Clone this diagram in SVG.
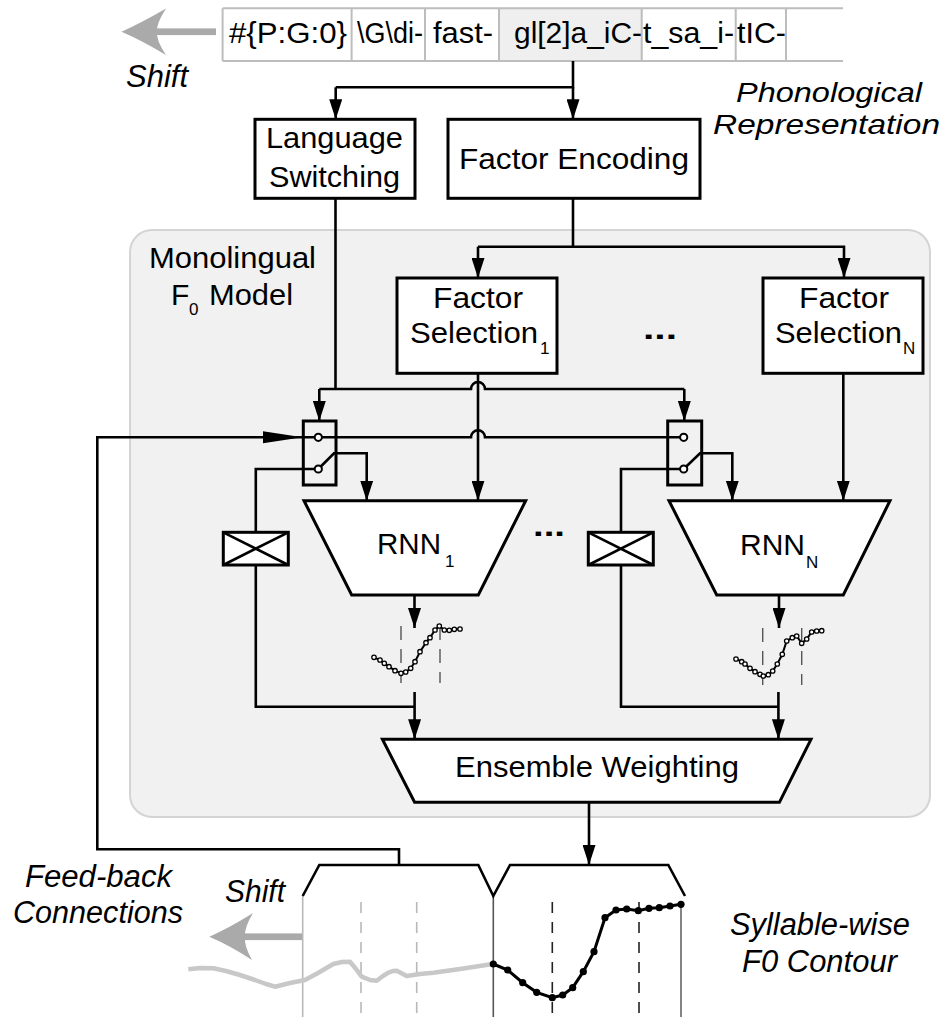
<svg xmlns="http://www.w3.org/2000/svg" width="943" height="1017" viewBox="0 0 943 1017">
  <defs>
    <style>
      .t { font-family: "Liberation Sans", Arial, sans-serif; font-size: 30px; fill: #000; }
      .it { font-style: italic; font-size: 31px; }
      .sub { font-family: "Liberation Sans", Arial, sans-serif; font-size: 17px; fill: #000; }
      .box { fill: #fff; stroke: #000; stroke-width: 3; }
      .frame { fill: none; stroke: #000; stroke-width: 3; }
      .wire { fill: none; stroke: #000; stroke-width: 2.6; }
      .tape { fill: none; stroke: #bdbdbd; stroke-width: 2; }
      .grid { stroke: #b8b8b8; stroke-width: 1.6; fill: none; }
      .grid-d { stroke: #222; stroke-width: 1.6; fill: none; stroke-dasharray: 11 9; }
      .grid-ld { stroke: #b8b8b8; stroke-width: 1.6; fill: none; stroke-dasharray: 11 9; }
      .mini-d { stroke: #555; stroke-width: 1.4; fill: none; stroke-dasharray: 14 9; }
      .mini { fill: none; stroke: #000; stroke-width: 2; }
      .mdot { fill: #fff; stroke: #000; stroke-width: 1.3; }
      .pin { fill: #fff; stroke: #000; stroke-width: 2; }
      .shift { fill: #aaaaaa; }
    </style>
    <marker id="arr" markerUnits="userSpaceOnUse" markerWidth="20" markerHeight="13" refX="20" refY="6.5" orient="auto">
      <path d="M0,0 L20,6.5 L0,13 Z" fill="#000"/>
    </marker>
  </defs>

  <!-- monolingual model panel -->
  <rect id="panel" x="130" y="230" width="800" height="587" rx="22" fill="#f1f1f1" stroke="#d4d4d4" stroke-width="2"/>

  <!-- phonological tape -->
  <g id="tape">
    <rect x="499" y="8.3" width="142.7" height="52.7" fill="#efefef"/>
    <path class="tape" d="M222.6,8.3 H843 M222.6,61 H843 M222.6,8.3 V61 M351.6,8.3 V61 M425,8.3 V61 M499,8.3 V61 M641.7,8.3 V61 M735.7,8.3 V61 M786,8.3 V61"/>
    <text class="t" x="229" y="43" textLength="118" lengthAdjust="spacingAndGlyphs">#{P:G:0}</text>
    <text class="t" x="357" y="43" textLength="66" lengthAdjust="spacingAndGlyphs">\G\di-</text>
    <text class="t" x="433" y="43" textLength="60" lengthAdjust="spacingAndGlyphs">fast-</text>
    <text class="t" x="514" y="43" textLength="128" lengthAdjust="spacingAndGlyphs">gl[2]a_iC-</text>
    <text class="t" x="643" y="43" textLength="91" lengthAdjust="spacingAndGlyphs">t_sa_i-</text>
    <text class="t" x="737" y="43" textLength="49" lengthAdjust="spacingAndGlyphs">tIC-</text>
  </g>

  <!-- shift arrows -->
  <g id="shift-top">
    <rect class="shift" x="155" y="28.4" width="61" height="6.7"/>
    <path class="shift" d="M121.5,31.7 Q143,22 166,8.5 Q156,24 157,31.7 Q156,40 166,55 Q143,41 121.5,31.7 Z"/>
    <text class="t it" x="126" y="87" textLength="62" lengthAdjust="spacingAndGlyphs">Shift</text>
  </g>
  <g id="shift-bottom">
    <rect class="shift" x="243" y="933.4" width="60" height="6.7"/>
    <path class="shift" d="M209.3,936.7 Q231,927 253,913 Q244,928 245,936.7 Q244,946 252,960 Q231,946 209.3,936.7 Z"/>
    <text class="t it" x="225" y="902" textLength="60" lengthAdjust="spacingAndGlyphs">Shift</text>
  </g>

  <!-- side labels -->
  <g id="labels">
    <text class="t it" x="736" y="102" style="font-size:28px" textLength="186" lengthAdjust="spacingAndGlyphs">Phonological</text>
    <text class="t it" x="713" y="134" style="font-size:28px" textLength="227" lengthAdjust="spacingAndGlyphs">Representation</text>
    <text class="t" x="149" y="268" textLength="167" lengthAdjust="spacingAndGlyphs">Monolingual</text>
    <text class="t" x="171" y="305">F</text>
    <text class="sub" x="189" y="315">0</text>
    <text class="t" x="209" y="305" textLength="84" lengthAdjust="spacingAndGlyphs">Model</text>
    <text class="t it" x="25" y="887" textLength="147" lengthAdjust="spacingAndGlyphs">Feed-back</text>
    <text class="t it" x="13" y="923" textLength="170" lengthAdjust="spacingAndGlyphs">Connections</text>
    <text class="t it" x="730" y="935" textLength="180" lengthAdjust="spacingAndGlyphs">Syllable-wise</text>
    <text class="t it" x="742" y="972" textLength="155" lengthAdjust="spacingAndGlyphs">F0 Contour</text>
    <text class="t" x="643" y="339" font-weight="bold" textLength="34" lengthAdjust="spacingAndGlyphs">...</text>
    <text class="t" x="533" y="536" font-weight="bold" textLength="32" lengthAdjust="spacingAndGlyphs">...</text>
  </g>

  <!-- connectors -->
  <g id="connectors">
    <path class="wire" d="M573,61 V87.3 H335.7"/>
    <path class="wire" d="M335.7,87.3 V119.3" marker-end="url(#arr)"/>
    <path class="wire" d="M573,87.3 V119.3" marker-end="url(#arr)"/>
    <path class="wire" d="M573,198.3 V246.7 H478"/>
    <path class="wire" d="M478,246.7 V278" marker-end="url(#arr)"/>
    <path class="wire" d="M573,246.7 H844 V278" marker-end="url(#arr)"/>
    <!-- language switching control -->
    <path class="wire" d="M335.5,198.3 V389"/>
    <path class="wire" d="M319.3,389 H471 A7,7 0 0 1 485,389 H684.3"/>
    <path class="wire" d="M319.3,389 V421" marker-end="url(#arr)"/>
    <path class="wire" d="M684.3,389 V421" marker-end="url(#arr)"/>
    <!-- factor selection outputs -->
    <path class="wire" d="M478,373.3 V500.7" marker-end="url(#arr)"/>
    <path class="wire" d="M843.3,373.3 V500.7" marker-end="url(#arr)"/>
    <!-- feedback loop -->
    <path class="wire" d="M399,865 V849.3 H97.3 V437.3 H318.3"/>
    <polygon points="263,431.3 302.5,437.3 263,443.3" fill="#000"/>
    <path class="wire" d="M318.3,437.3 H471 A7,7 0 0 1 485,437.3 H683.7"/>
    <!-- switch outputs -->
    <path class="wire" d="M318.3,469 L334,453.3 H366.7 V500.7" marker-end="url(#arr)"/>
    <path class="wire" d="M683.7,469 L700,453.3 H732.3 V500.7" marker-end="url(#arr)"/>
    <path class="wire" d="M318.3,469 H255.8 V532.3"/>
    <path class="wire" d="M683.7,469 H621 V532.3"/>
    <!-- RNN outputs -->
    <path class="wire" d="M414.5,595 V628" marker-end="url(#arr)"/>
    <path class="wire" d="M779,595 V628" marker-end="url(#arr)"/>
    <path class="wire" d="M255.8,565 V706.7 H414.6"/>
    <path class="wire" d="M414.6,692 V739.3" marker-end="url(#arr)"/>
    <path class="wire" d="M621,565 V706.7 H778.4"/>
    <path class="wire" d="M778.4,692 V739.3" marker-end="url(#arr)"/>
    <path class="wire" d="M589,802.3 V865" marker-end="url(#arr)"/>
  </g>

  <g id="lang-switch">
    <rect class="box" x="255" y="119.3" width="160" height="79"/>
    <text class="t" x="266" y="148" textLength="137" lengthAdjust="spacingAndGlyphs">Language</text>
    <text class="t" x="269" y="187" textLength="131" lengthAdjust="spacingAndGlyphs">Switching</text>
  </g>

  <g id="factor-encoding">
    <rect class="box" x="448" y="119.3" width="252" height="79"/>
    <text class="t" x="459" y="169" textLength="230" lengthAdjust="spacingAndGlyphs">Factor Encoding</text>
  </g>

  <g id="factor-sel-1">
    <rect class="box" x="397" y="278" width="160" height="95.3"/>
    <text class="t" x="433" y="308" textLength="90" lengthAdjust="spacingAndGlyphs">Factor</text>
    <text class="t" x="410" y="343" textLength="128" lengthAdjust="spacingAndGlyphs">Selection</text>
    <text class="sub" x="540" y="354">1</text>
  </g>

  <g id="factor-sel-n">
    <rect class="box" x="763" y="278" width="160" height="95.3"/>
    <text class="t" x="799" y="308" textLength="90" lengthAdjust="spacingAndGlyphs">Factor</text>
    <text class="t" x="775" y="343" textLength="127" lengthAdjust="spacingAndGlyphs">Selection</text>
    <text class="sub" x="903" y="354">N</text>
  </g>

  <g id="switch-1">
    <rect class="frame" x="303.3" y="421" width="32.7" height="64"/>
    <circle class="pin" cx="318.3" cy="437.3" r="3.6"/>
    <circle class="pin" cx="318.3" cy="469" r="3.6"/>
  </g>

  <g id="switch-n">
    <rect class="frame" x="667.7" y="421" width="34" height="64"/>
    <circle class="pin" cx="683.7" cy="437.3" r="3.6"/>
    <circle class="pin" cx="683.7" cy="469" r="3.6"/>
  </g>

  <g id="null-1">
    <rect class="box" x="223.3" y="532.3" width="65" height="32.7"/>
    <path class="wire" d="M223.3,532.3 L288.3,565 M288.3,532.3 L223.3,565"/>
  </g>

  <g id="null-n">
    <rect class="box" x="588.3" y="532.3" width="65" height="32.7"/>
    <path class="wire" d="M588.3,532.3 L653.3,565 M653.3,532.3 L588.3,565"/>
  </g>

  <g id="rnn-1">
    <polygon class="box" points="304,500.7 525.7,500.7 478.3,595 351.7,595"/>
    <text class="t" x="377" y="554" textLength="64" lengthAdjust="spacingAndGlyphs">RNN</text>
    <text class="sub" x="445" y="567">1</text>
  </g>

  <g id="rnn-n">
    <polygon class="box" points="669,500.7 890,500.7 843.3,595 716.7,595"/>
    <text class="t" x="740" y="555" textLength="65" lengthAdjust="spacingAndGlyphs">RNN</text>
    <text class="sub" x="806" y="568">N</text>
  </g>

  <g id="contour-1">
    <path class="mini-d" d="M401,626 V683 M440,626 V683"/>
    <polyline class="mini" points="374,657.3 380,660 384.3,663.3 389,666.7 395,670.7 401,673.3 405.7,672 410.7,668.3 415,661.7 420,651.7 426,642.7 430,637.7 435,630 439.3,626 444.3,630 449.3,630.3 454.3,629.3 460,629"/>
    <g class="mdot">
      <circle cx="374" cy="657.3" r="2.2"/><circle cx="380" cy="660" r="2.2"/><circle cx="384.3" cy="663.3" r="2.2"/><circle cx="389" cy="666.7" r="2.2"/><circle cx="395" cy="670.7" r="2.2"/><circle cx="401" cy="673.3" r="2.2"/><circle cx="405.7" cy="672" r="2.2"/><circle cx="410.7" cy="668.3" r="2.2"/><circle cx="415" cy="661.7" r="2.2"/><circle cx="420" cy="651.7" r="2.2"/><circle cx="426" cy="642.7" r="2.2"/><circle cx="430" cy="637.7" r="2.2"/><circle cx="435" cy="630" r="2.2"/><circle cx="439.3" cy="626" r="2.2"/><circle cx="444.3" cy="630" r="2.2"/><circle cx="449.3" cy="630.3" r="2.2"/><circle cx="454.3" cy="629.3" r="2.2"/><circle cx="460" cy="629" r="2.2"/>
    </g>
  </g>

  <g id="contour-n">
    <path class="mini-d" d="M762.7,628 V685 M801.7,628 V685"/>
    <polyline class="mini" points="736,659 741.7,661.7 745,664 750,668.3 755,671.7 760,674.3 763.3,676 768.3,674.7 772.7,671 777.3,664 782.3,654.3 786.7,641 792.3,637.7 796.7,636 801.7,643.3 806.7,639 811.7,632 816.7,631 821.7,630.7"/>
    <g class="mdot">
      <circle cx="736" cy="659" r="2.2"/><circle cx="741.7" cy="661.7" r="2.2"/><circle cx="745" cy="664" r="2.2"/><circle cx="750" cy="668.3" r="2.2"/><circle cx="755" cy="671.7" r="2.2"/><circle cx="760" cy="674.3" r="2.2"/><circle cx="763.3" cy="676" r="2.2"/><circle cx="768.3" cy="674.7" r="2.2"/><circle cx="772.7" cy="671" r="2.2"/><circle cx="777.3" cy="664" r="2.2"/><circle cx="782.3" cy="654.3" r="2.2"/><circle cx="786.7" cy="641" r="2.2"/><circle cx="792.3" cy="637.7" r="2.2"/><circle cx="796.7" cy="636" r="2.2"/><circle cx="801.7" cy="643.3" r="2.2"/><circle cx="806.7" cy="639" r="2.2"/><circle cx="811.7" cy="632" r="2.2"/><circle cx="816.7" cy="631" r="2.2"/><circle cx="821.7" cy="630.7" r="2.2"/>
    </g>
  </g>

  <g id="ensemble">
    <polygon class="box" points="382.4,739.3 811,739.3 779.4,802.3 414.6,802.3"/>
    <text class="t" x="455" y="777" textLength="284" lengthAdjust="spacingAndGlyphs">Ensemble Weighting</text>
  </g>

  <!-- syllable-wise output contour -->
  <g id="f0-contour">
    <path class="grid" d="M302.7,896 V1017"/>
    <path class="grid-ld" d="M361,902 V1017 M416.7,902 V1017"/>
    <path d="M493.3,896 V1017" stroke="#555" stroke-width="1.6"/>
    <path class="grid-d" d="M552.3,902 V1017 M639,902 V1017"/>
    <path d="M681,904 V1017" stroke="#666" stroke-width="1.6"/>
    <path class="wire" stroke-width="3" d="M302.7,896 L319.3,865 H478.3 L493.3,896 L510,865 H668.3 L685,896"/>
    <polyline fill="none" stroke="#c8c8c8" stroke-width="4.5" stroke-linejoin="round" points="188.3,969.3 200,968 213.3,968.3 226,971 240,975 255,980 266,984 275,986.7 290,983 305,980 318,973 333.3,964 342,962 350,961.7 356,969 361.7,976.7 370,980 376.7,980.7 383,976 388.3,972.7 393,971 396.7,970.7 401,973 406.7,976 420,974 433.3,972.7 460,969 492.7,964"/>
    <polyline fill="none" stroke="#000" stroke-width="3" points="493.3,964 507.7,970 522.7,982.7 536.7,992.3 552.3,997.7 562.7,995 572.7,987.7 583.3,971.7 594,951.7 605,917.7 616,910 626.7,909 638.3,910.7 649,908.3 659.3,907.7 670,906 681,904.3"/>
    <g fill="#000">
      <circle cx="493.3" cy="964" r="3.6"/><circle cx="507.7" cy="970" r="3.6"/><circle cx="522.7" cy="982.7" r="3.6"/><circle cx="536.7" cy="992.3" r="3.6"/><circle cx="552.3" cy="997.7" r="3.6"/><circle cx="562.7" cy="995" r="3.6"/><circle cx="572.7" cy="987.7" r="3.6"/><circle cx="583.3" cy="971.7" r="3.6"/><circle cx="594" cy="951.7" r="3.6"/><circle cx="605" cy="917.7" r="3.6"/><circle cx="616" cy="910" r="3.6"/><circle cx="626.7" cy="909" r="3.6"/><circle cx="638.3" cy="910.7" r="3.6"/><circle cx="649" cy="908.3" r="3.6"/><circle cx="659.3" cy="907.7" r="3.6"/><circle cx="670" cy="906" r="3.6"/><circle cx="681" cy="904.3" r="3.6"/>
    </g>
  </g>
</svg>
